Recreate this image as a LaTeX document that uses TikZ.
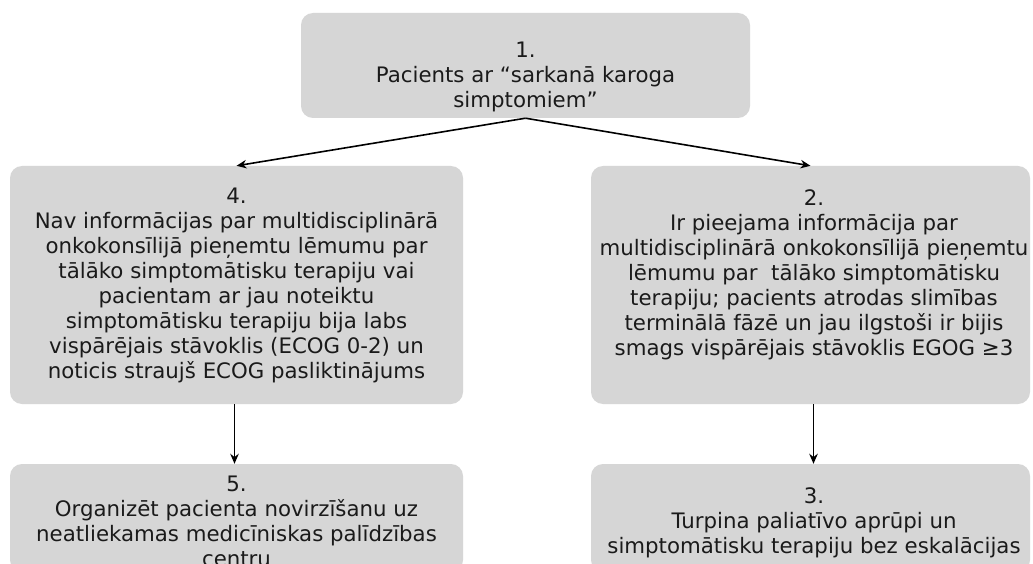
\documentclass[tikz,border=0pt]{standalone}
\usepackage{fontspec}
\setmainfont{DejaVu Sans}
\usetikzlibrary{arrows.meta}
\definecolor{boxgray}{HTML}{D6D6D6}
\definecolor{txtcol}{HTML}{1A1A1A}
\tikzset{
  flowbox/.style={draw=none, fill=boxgray, rounded corners=12pt, inner sep=0pt},
  flowtxt/.style={align=center, text=txtcol, inner sep=0pt, font=\fontsize{21.3pt}{25pt}\selectfont},
  conn/.style={line width=1.6pt, -{Stealth[length=10pt,width=8.5pt]}}
}
\begin{document}
\begin{tikzpicture}[x=1pt,y=-1pt]
\clip (0,0) rectangle (1033,564);
\fill[white] (0,0) rectangle (1033,564);
\node[flowbox, minimum width=449pt, minimum height=105pt] (b1) at (525.5,65.5) {};
\node[flowbox, minimum width=453pt, minimum height=238pt] (b4) at (236.5,285) {};
\node[flowbox, minimum width=439pt, minimum height=238pt] (b2) at (810.5,285) {};
\node[flowbox, minimum width=453pt, minimum height=108pt] (b5) at (236.5,518) {};
\node[flowbox, minimum width=439pt, minimum height=108pt] (b3) at (810.5,518) {};

\node[flowtxt, anchor=north] (t1) at (525.5,42) {1.\\Pacients ar “sarkanā karoga\\simptomiem”};
\node[flowtxt, anchor=north] (t4) at (236.5,188) {4.\\Nav informācijas par multidisciplinārā\\onkokonsīlijā pieņemtu lēmumu par\\tālāko simptomātisku terapiju vai\\pacientam ar jau noteiktu\\simptomātisku terapiju bija labs\\vispārējais stāvoklis (ECOG 0-2) un\\noticis straujš ECOG pasliktinājums};
\node[flowtxt, anchor=north] (t2) at (814,189) {2.\\Ir pieejama informācija par\\multidisciplinārā onkokonsīlijā pieņemtu\\lēmumu par~ tālāko simptomātisku\\terapiju; pacients atrodas slimības\\terminālā fāzē un jau ilgstoši ir bijis\\smags vispārējais stāvoklis EGOG ≥3};
\node[flowtxt, anchor=north] (t5) at (236.5,476) {5.\\Organizēt pacienta novirzīšanu uz\\neatliekamas medicīniskas palīdzības\\centru};
\node[flowtxt, anchor=north] (t3) at (814,487) {3.\\Turpina paliatīvo aprūpi un\\simptomātisku terapiju bez eskalācijas};

\draw[conn] (b1.south) -- (b4.north);
\draw[conn] (b1.south) -- (b2.north);
\draw[conn] ([xshift=-2pt]b4.south) -- ([xshift=-2pt]b5.north);
\draw[conn] ([xshift=3pt]b2.south) -- ([xshift=3pt]b3.north);
\end{tikzpicture}
\end{document}
